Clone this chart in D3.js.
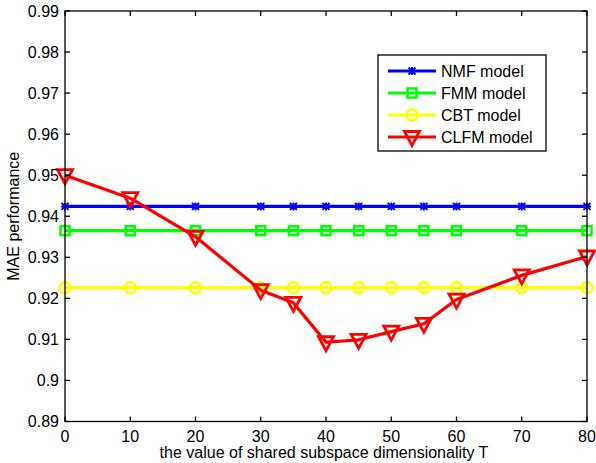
<!DOCTYPE html>
<html>
<head>
<meta charset="utf-8">
<script src="https://cdn.jsdelivr.net/npm/d3@7"></script>
<style>
  html, body { margin: 0; padding: 0; background: #fff; }
  svg { display: block; font-family: "Liberation Sans", Arial, sans-serif; }
</style>
</head>
<body>
<div id="chart"></div>
<script>
// --- data ---
const xValues = [0, 10, 20, 30, 35, 40, 45, 50, 55, 60, 70, 80];
const nmfValues  = [0.9424, 0.9424, 0.9424, 0.9424, 0.9424, 0.9424, 0.9424, 0.9424, 0.9424, 0.9424, 0.9424, 0.9424];
const fmmValues  = [0.9365, 0.9365, 0.9365, 0.9365, 0.9365, 0.9365, 0.9365, 0.9365, 0.9365, 0.9365, 0.9365, 0.9365];
const cbtValues  = [0.9226, 0.9226, 0.9226, 0.9226, 0.9226, 0.9226, 0.9226, 0.9226, 0.9226, 0.9226, 0.9226, 0.9226];
const clfmValues = [0.9500, 0.9444, 0.9350, 0.9220, 0.9189, 0.9093, 0.9099, 0.9119, 0.9138, 0.9197, 0.9256, 0.9302];
const seriesNames = ['NMF model', 'FMM model', 'CBT model', 'CLFM model'];
const xTicks = [0, 10, 20, 30, 40, 50, 60, 70, 80];
const yTicks = [0.89, 0.90, 0.91, 0.92, 0.93, 0.94, 0.95, 0.96, 0.97, 0.98, 0.99];

const series = [
  { name: seriesNames[0], values: nmfValues,  color: '#0000ff', marker: 'star' },
  { name: seriesNames[1], values: fmmValues,  color: '#00ff00', marker: 'square' },
  { name: seriesNames[2], values: cbtValues,  color: '#ffff00', marker: 'circle' },
  { name: seriesNames[3], values: clfmValues, color: '#ff0000', marker: 'triangle' }
];

const W = 596, H = 463;
const margin = { left: 65, right: 9, top: 11, bottom: 41.5 };
const FONT = 16;

const svg = d3.select('#chart').append('svg')
  .attr('width', W).attr('height', H);

const x = d3.scaleLinear().domain([0, 80]).range([margin.left, W - margin.right]);
const y = d3.scaleLinear().domain([0.89, 0.99]).range([H - margin.bottom, margin.top]);

// --- markers ---
function drawMarker(g, type, cx, cy, color) {
  if (type === 'star') {
    const s = 3.5;
    g.append('path')
      .attr('d', `M${cx - s},${cy - s}L${cx + s},${cy + s}M${cx - s},${cy + s}L${cx + s},${cy - s}` +
                 `M${cx},${cy - s - 0.5}L${cx},${cy + s + 0.5}M${cx - s - 0.5},${cy}L${cx + s + 0.5},${cy}`)
      .attr('stroke', color).attr('stroke-width', 2).attr('fill', 'none');
  } else if (type === 'square') {
    g.append('rect')
      .attr('x', cx - 4.5).attr('y', cy - 4.5).attr('width', 9).attr('height', 9)
      .attr('fill', 'none').attr('stroke', color).attr('stroke-width', 2.5);
  } else if (type === 'circle') {
    g.append('circle')
      .attr('cx', cx).attr('cy', cy).attr('r', 5.5)
      .attr('fill', 'none').attr('stroke', color).attr('stroke-width', 2.5);
  } else if (type === 'triangle') {
    g.append('path')
      .attr('d', `M${cx - 7.5},${cy - 5.5}L${cx + 7.5},${cy - 5.5}L${cx},${cy + 8.5}Z`)
      .attr('fill', 'none').attr('stroke', color).attr('stroke-width', 2.8)
      .attr('stroke-linejoin', 'miter');
  }
}

// --- series ---
const line = d3.line().x(d => x(d[0])).y(d => y(d[1]));

series.forEach(s => {
  const pts = xValues.map((xv, i) => [xv, s.values[i]]);
  const g = svg.append('g');
  g.append('path')
    .datum(pts)
    .attr('d', line)
    .attr('fill', 'none')
    .attr('stroke', s.color)
    .attr('stroke-width', 3.2)
    .attr('stroke-linejoin', 'round');
  pts.forEach(p => drawMarker(g, s.marker, x(p[0]), y(p[1]), s.color));
});

// --- axes box (matlab style, ticks inside, mirrored) ---
const x0 = x.range()[0], x1 = x.range()[1];
const y0 = y.range()[0], y1 = y.range()[1];
const axisG = svg.append('g').attr('stroke', '#000').attr('stroke-width', 1.3);

axisG.append('rect')
  .attr('x', x0).attr('y', y1).attr('width', x1 - x0).attr('height', y0 - y1)
  .attr('fill', 'none');

const tickLen = 5;
xTicks.forEach(t => {
  axisG.append('line').attr('x1', x(t)).attr('x2', x(t)).attr('y1', y0).attr('y2', y0 - tickLen);
  axisG.append('line').attr('x1', x(t)).attr('x2', x(t)).attr('y1', y1).attr('y2', y1 + tickLen);
});
yTicks.forEach(t => {
  axisG.append('line').attr('x1', x0).attr('x2', x0 + tickLen).attr('y1', y(t)).attr('y2', y(t));
  axisG.append('line').attr('x1', x1).attr('x2', x1 - tickLen).attr('y1', y(t)).attr('y2', y(t));
});

const fmtY = d => d3.format('.2f')(d).replace(/0$/, '');

svg.append('g').selectAll('text')
  .data(xTicks).join('text')
  .attr('x', d => x(d)).attr('y', y0 + 20)
  .attr('text-anchor', 'middle')
  .attr('font-size', FONT)
  .text(d => d);

svg.append('g').selectAll('text')
  .data(yTicks).join('text')
  .attr('x', x0 - 6).attr('y', d => y(d) + 5.5)
  .attr('text-anchor', 'end')
  .attr('font-size', FONT)
  .text(fmtY);

// --- axis labels ---
svg.append('text')
  .attr('x', (x0 + x1) / 2 - 2).attr('y', y0 + 36)
  .attr('text-anchor', 'middle')
  .attr('font-size', FONT)
  .text('the value of shared subspace dimensionality T');

svg.append('text')
  .attr('transform', `translate(19, ${(y0 + y1) / 2}) rotate(-90)`)
  .attr('text-anchor', 'middle')
  .attr('font-size', FONT)
  .text('MAE performance');

// --- legend ---
const legend = svg.append('g');
legend.append('rect')
  .attr('x', 378).attr('y', 55).attr('width', 168).attr('height', 96)
  .attr('fill', '#fff').attr('stroke', '#000').attr('stroke-width', 1.3);

series.forEach((s, i) => {
  const ly = 71 + i * 22;
  legend.append('line')
    .attr('x1', 388).attr('x2', 436).attr('y1', ly).attr('y2', ly)
    .attr('stroke', s.color).attr('stroke-width', 3.2);
  drawMarker(legend, s.marker, 412, ly, s.color);
  legend.append('text')
    .attr('x', 441).attr('y', ly + 5.5)
    .attr('font-size', FONT)
    .text(s.name);
});
</script>
</body>
</html>
